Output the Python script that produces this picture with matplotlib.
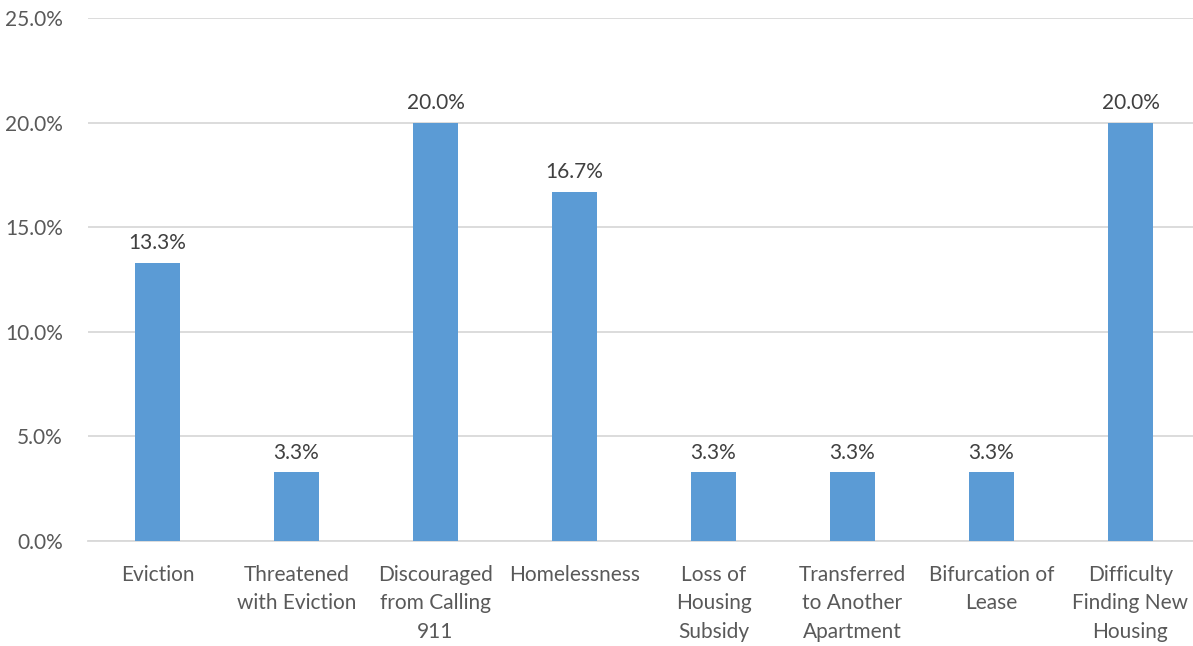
import matplotlib.pyplot as plt
from matplotlib.ticker import FuncFormatter

categories = ["Eviction", "Threatened\nwith Eviction", "Discouraged\nfrom Calling\n911",
              "Homelessness", "Loss of\nHousing\nSubsidy", "Transferred\nto Another\nApartment",
              "Bifurcation of\nLease", "Difficulty\nFinding New\nHousing"]
shares = [13.3, 3.3, 20.0, 16.7, 3.3, 3.3, 3.3, 20.0]
y_ticks = [0, 5, 10, 15, 20, 25]

plt.rcParams['font.family'] = ['Lato', 'DejaVu Sans']

W, H = 1193, 646
fig = plt.figure(figsize=(W / 100, H / 100), dpi=100)
ax = fig.add_axes([88 / W, (H - 541) / H, 1112 / W, 523 / H])

x = range(len(categories))
ax.bar(x, shares, width=0.32, color='#5b9bd5', zorder=3)
for i, v in zip(x, shares):
    ax.text(i, v + 0.45, f"{v:.1f}%", ha='center', va='bottom', fontsize=15, color='#404040')

ax.set_xlim(-0.5, len(categories) - 0.5)
ax.set_ylim(0, 25)
ax.set_yticks(y_ticks)
ax.yaxis.set_major_formatter(FuncFormatter(lambda v, _: f"{v:.1f}%"))
ax.set_xticks(list(x))
ax.set_xticklabels(categories, fontsize=15, color='#595959', linespacing=1.55)
ax.tick_params(axis='y', labelsize=15, labelcolor='#595959', length=0, pad=18)
ax.tick_params(axis='x', length=0, pad=17)
ax.grid(axis='y', color='#d9d9d9', linewidth=1.3, zorder=0)
for side in ['top', 'right', 'left']:
    ax.spines[side].set_visible(False)
ax.spines['bottom'].set_color('#d9d9d9')
ax.spines['bottom'].set_linewidth(1.3)

fig.savefig('out.png', dpi=100)
